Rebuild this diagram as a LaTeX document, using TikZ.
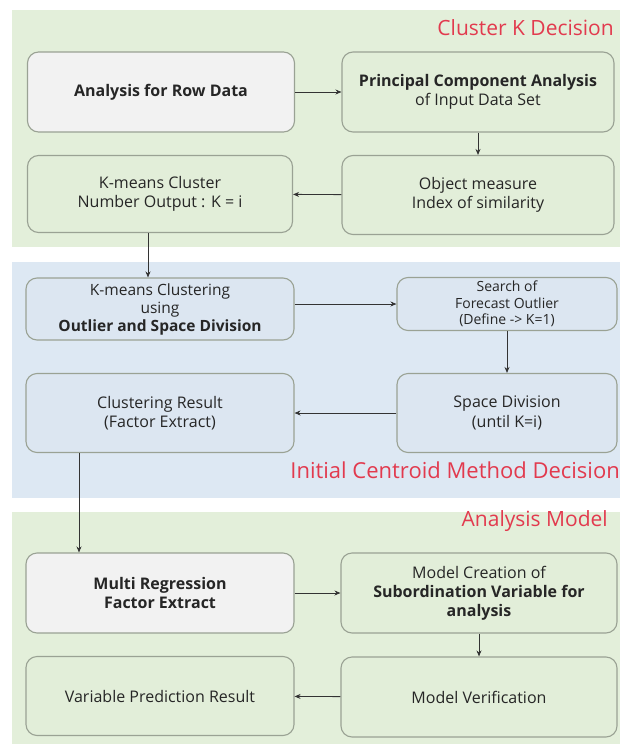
\documentclass[tikz,border=0pt]{standalone}
\usepackage{fontspec}
\setmainfont{Open Sans}
\usepackage{xcolor}
\usetikzlibrary{arrows.meta,positioning,calc}

\definecolor{panelgreen}{HTML}{E3EFDA}
\definecolor{panelblue}{HTML}{DDE8F3}
\definecolor{boxgreen}{HTML}{E2EED9}
\definecolor{boxblue}{HTML}{DCE6F1}
\definecolor{boxgray}{HTML}{F2F2F2}
\definecolor{edgegray}{HTML}{9AA294}
\definecolor{titlered}{HTML}{E23A4E}

\begin{document}
\begin{tikzpicture}[
    x=1pt,y=-1pt,
    box/.style={rectangle,draw=edgegray,line width=1.1pt,rounded corners=11pt,align=center,
                font=\fontsize{16}{19.5}\selectfont,text=black!85,inner sep=2pt},
    greenbox/.style={box,fill=boxgreen},
    bluebox/.style={box,fill=boxblue},
    graybox/.style={box,fill=boxgray},
    arrow/.style={-{Stealth[length=6pt,width=5pt]},line width=0.9pt,black!80},
    paneltitle/.style={anchor=east,text=titlered,font=\fontsize{21}{24}\selectfont,inner sep=0pt}
]
    \useasboundingbox (0,0) rectangle (620,744);
    % panels
    \fill[panelgreen] (12,10) rectangle (620,247);
    \fill[panelblue] (12,262) rectangle (620,498);
    \fill[panelgreen] (12,512) rectangle (620,744);

    \node[paneltitle] (t1) at (614,28) {Cluster K Decision};
    \node[paneltitle,font=\fontsize{22}{24}\selectfont] (t2) at (620,470) {Initial Centroid Method Decision};
    \node[paneltitle] (t3) at (608,521) {Analysis Model};

    % cluster K decision
    \node[graybox,minimum width=267pt,minimum height=80pt] (row) at (161,92) {\textbf{Analysis for Row Data}};
    \node[greenbox,minimum width=272pt,minimum height=80pt] (pca) at (478,92) {\textbf{Principal Component Analysis}\\of Input Data Set};
    \node[greenbox,minimum width=265pt,minimum height=77pt] (kout) at (160,194) {K-means Cluster\\Number Output : K = i};
    \node[greenbox,minimum width=272pt,minimum height=79pt] (sim) at (478,195) {Object measure\\Index of similarity};

    % initial centroid method decision
    \node[bluebox,minimum width=268pt,minimum height=62pt,font=\fontsize{15.5}{18}\selectfont] (kmc) at (160,309) {K-means Clustering\\using\\\textbf{Outlier and Space Division}};
    \node[bluebox,minimum width=220pt,minimum height=53pt,inner sep=1pt,font=\fontsize{14}{16.5}\selectfont] (outl) at (507,304) {Search of\\Forecast Outlier\\(Define -> K=1)};
    \node[bluebox,minimum width=220pt,minimum height=79pt] (space) at (507,413) {Space Division\\(until K=i)};
    \node[bluebox,minimum width=268pt,minimum height=79pt] (res) at (160,413) {Clustering Result\\(Factor Extract)};

    % analysis model
    \node[graybox,minimum width=268pt,minimum height=80pt] (reg) at (160,593) {\textbf{Multi Regression}\\\textbf{Factor Extract}};
    \node[greenbox,minimum width=276pt,minimum height=80pt,font=\fontsize{16}{19}\selectfont] (mcr) at (479,593) {Model Creation of\\\textbf{Subordination Variable for}\\\textbf{analysis}};
    \node[greenbox,minimum width=276pt,minimum height=80pt] (ver) at (479,697) {Model Verification};
    \node[greenbox,minimum width=268pt,minimum height=79pt] (pred) at (160,696) {Variable Prediction Result};

    \draw[arrow] (row) -- (pca);
    \draw[arrow] (pca) -- (sim);
    \draw[arrow] (sim) -- (kout);
    \draw[arrow] ([xshift=-12pt]kout.south) -- ([xshift=-12pt]kout.south |- kmc.north);
    \draw[arrow] (kmc.east |- outl) -- (outl);
    \draw[arrow] (outl) -- (space);
    \draw[arrow] (space) -- (res);
    \draw[arrow] ([xshift=-81pt]res.south) -- ([xshift=-81pt]res.south |- reg.north);
    \draw[arrow] (reg) -- (mcr);
    \draw[arrow] (mcr) -- (ver);
    \draw[arrow] (ver) -- (pred);
\end{tikzpicture}
\end{document}
